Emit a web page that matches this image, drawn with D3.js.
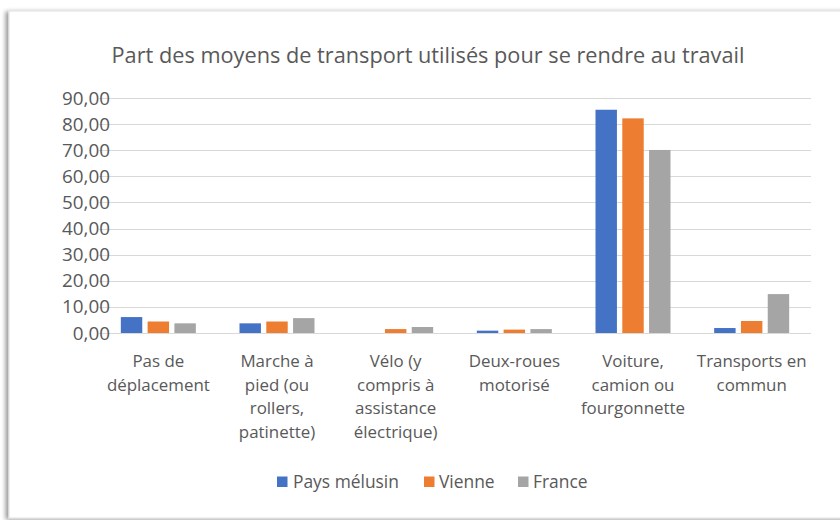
<!DOCTYPE html>
<html>
<head>
<meta charset="utf-8">
<script src="https://cdn.jsdelivr.net/npm/d3@7/dist/d3.min.js"></script>
<style>
  html, body { margin: 0; padding: 0; background: #ffffff; }
  svg { display: block; }
  text { font-family: "Open Sans", Lato, sans-serif; fill: #595959; }
</style>
</head>
<body>
<svg id="chart" width="840" height="520"></svg>
<script>
const title = "Part des moyens de transport utilisés pour se rendre au travail";
const categories = [
  ["Pas de", "déplacement"],
  ["Marche à", "pied (ou", "rollers,", "patinette)"],
  ["Vélo (y", "compris à", "assistance", "électrique)"],
  ["Deux-roues", "motorisé"],
  ["Voiture,", "camion ou", "fourgonnette"],
  ["Transports en", "commun"]
];
const seriesNames = ["Pays mélusin", "Vienne", "France"];
const paysMelusin = [6.1, 3.7, 0.0, 0.9, 85.5, 1.9];
const vienne      = [4.4, 4.4, 1.5, 1.3, 82.2, 4.6];
const france      = [3.7, 5.7, 2.3, 1.5, 70.1, 14.9];
const colors = ["#4472C4", "#ED7D31", "#A5A5A5"];
const tickValues = [0, 10, 20, 30, 40, 50, 60, 70, 80, 90];

const seriesValues = [paysMelusin, vienne, france];
const svg = d3.select("#chart");

// scale a text's font-size so its rendered width matches a target width
function fitSize(sample, base, target) {
  const t = svg.append("text").style("font-size", base + "px").text(sample);
  const w = t.node().getComputedTextLength();
  t.remove();
  return base * target / w;
}

// card background with shadow
const defs = svg.append("defs");
const f = defs.append("filter").attr("id", "sh").attr("x", "-5%").attr("y", "-5%").attr("width", "110%").attr("height", "110%");
f.append("feDropShadow").attr("dx", -3).attr("dy", 1).attr("stdDeviation", 2).attr("flood-color", "#000").attr("flood-opacity", 0.4);
svg.append("rect").attr("x", 9).attr("y", 11).attr("width", 860).attr("height", 507)
  .attr("fill", "#fff").attr("stroke", "#e0e0e0").attr("filter", "url(#sh)");

const catKeys = categories.map((c, i) => i);
const x0 = d3.scaleBand().domain(catKeys).range([99, 811]).padding(0);
const x1 = d3.scaleBand().domain(seriesNames).range([0, x0.bandwidth()]).paddingInner(0.2).paddingOuter(0.815);
const y = d3.scaleLinear().domain([0, 90]).range([333, 98]);

const fmt = d => d3.format(".2f")(d).replace(".", ",");
const tickSize = fitSize(fmt(90), 15, 48);
const catSize = fitSize("déplacement", 15, 103);
const legSize = fitSize("Pays mélusin", 15, 106);
const titleSize = fitSize(title, 20, 633);

// gridlines
svg.append("g").selectAll("line").data(tickValues).join("line")
  .attr("x1", 99).attr("x2", 811)
  .attr("y1", d => Math.round(y(d)) + 0.5).attr("y2", d => Math.round(y(d)) + 0.5)
  .attr("stroke", "#d9d9d9").attr("stroke-width", 1);

// y axis labels
svg.append("g").selectAll("text").data(tickValues).join("text")
  .attr("x", 110).attr("y", d => y(d)).attr("dy", "0.35em")
  .attr("text-anchor", "end").style("font-size", tickSize + "px").text(fmt);

// bars
const groups = svg.append("g").selectAll("g").data(catKeys).join("g")
  .attr("transform", d => `translate(${x0(d)},0)`);
groups.selectAll("rect").data(i => seriesNames.map((s, k) => ({ s, k, v: seriesValues[k][i] })))
  .join("rect")
  .attr("x", d => x1(d.s)).attr("width", x1.bandwidth())
  .attr("y", d => y(d.v)).attr("height", d => y(0) - y(d.v))
  .attr("fill", d => colors[d.k]);

// category labels
const cl = svg.append("g").selectAll("text").data(categories).join("text")
  .attr("text-anchor", "middle").style("font-size", catSize + "px")
  .attr("transform", (d, i) => `translate(${x0(i) + x0.bandwidth() / 2},367)`);
cl.selectAll("tspan").data(d => d).join("tspan")
  .attr("x", 0).attr("y", (d, j) => j * 23.5).text(d => d);

// title
svg.append("text").attr("x", 428).attr("y", 63).attr("text-anchor", "middle")
  .style("font-size", titleSize + "px").text(title);

// legend
const legendItems = [
  { name: seriesNames[0], x: 277, tx: 293 },
  { name: seriesNames[1], x: 424, tx: 439 },
  { name: seriesNames[2], x: 518, tx: 533 }
];
const lg = svg.append("g").selectAll("g").data(legendItems).join("g");
lg.append("rect").attr("x", d => d.x).attr("y", 476.5).attr("width", 10.5).attr("height", 10.5)
  .attr("fill", (d, i) => colors[i]);
lg.append("text").attr("x", d => d.tx).attr("y", 482).attr("dy", "0.35em")
  .style("font-size", legSize + "px").text(d => d.name);
</script>
</body>
</html>
